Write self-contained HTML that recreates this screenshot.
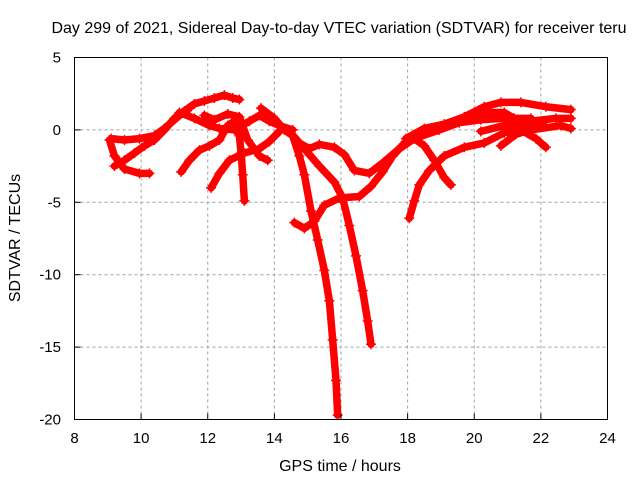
<!DOCTYPE html>
<html><head><meta charset="utf-8"><style>
body{margin:0;background:#fff}
svg{display:block;font-family:"Liberation Sans",sans-serif}
</style></head><body>
<svg id="chart" width="640" height="480" viewBox="0 0 640 480" xmlns="http://www.w3.org/2000/svg">
<rect width="640" height="480" fill="#fff"/>
<text x="339" y="33" font-size="16" text-anchor="middle">Day 299 of 2021, Sidereal Day-to-day VTEC variation (SDTVAR) for receiver teru</text>
<g id="grid"></g>
<g id="series"></g>
<rect x="74.5" y="57.5" width="533" height="362" fill="none" stroke="#000" stroke-width="1"/>
<g id="ticks"></g>
<text x="340" y="471" font-size="16" text-anchor="middle">GPS time / hours</text>
<text transform="translate(20,238) rotate(-90)" font-size="16" text-anchor="middle">SDTVAR / TECUs</text>
</svg>
<script>
const xTicks=[8,10,12,14,16,18,20,22,24];
const yTicks=[5,0,-5,-10,-15,-20];
const trackL1=[[9.05,-0.7],[9.2,-1.8],[9.5,-2.7],[9.95,-3],[10.25,-3]];
const trackL2=[[9.1,-0.6],[9.5,-0.7],[9.95,-0.6],[10.4,-0.4],[10.7,0.1],[11.15,1],[11.45,1.5]];
const trackL3=[[9.2,-2.5],[9.5,-2.1],[9.8,-1.6],[10.1,-1.1],[10.4,-0.7],[10.7,0],[11,0.8],[11.3,1.3],[11.6,1.8],[11.9,2],[12.2,2.2],[12.5,2.4],[12.75,2.2],[12.95,2.1]];
const trackL4=[[11.15,1.2],[11.6,0.8],[12.05,0.3],[12.35,0.1],[12.8,0],[13.25,0.6],[13.55,1],[13.85,0.6],[14.15,0.3],[14.55,0]];
const trackL5=[[11.9,1.0],[12.2,0.7],[12.6,1.1],[12.95,0.9],[13.2,-0.7],[13.55,-1.8],[13.8,-2.1]];
const trackL6=[[11.2,-2.9],[11.45,-2.1],[11.75,-1.4],[12.05,-1.1],[12.35,-0.7],[12.6,0.3],[12.8,0.6],[12.95,-0.4],[13.0,-1.6],[13.05,-3.1],[13.1,-4.9]];
const trackL7=[[12.1,-4],[12.35,-3],[12.65,-2.1],[13.1,-1.6],[13.55,-1.3],[13.85,-0.8],[14.15,-0.1]];
const trackL8=[[13.6,1.5],[14,0.8],[14.3,0],[14.55,-0.4]];
const trackM1=[[14.55,-0.4],[14.75,-1.8],[14.9,-3.1],[15.1,-5.6],[15.3,-7.6],[15.5,-9.7],[15.65,-11.8],[15.75,-14.5],[15.85,-17.3],[15.9,-19.7]];
const trackM2=[[14.45,-0.1],[14.9,-1.3],[15.35,-2.5],[15.8,-3.6],[16.05,-4.7],[16.25,-6.6],[16.45,-8.7],[16.65,-11.1],[16.8,-13.2],[16.9,-14.8]];
const trackM3=[[14.75,-0.9],[15.05,-1.3],[15.35,-1],[15.8,-1.2],[16.1,-1.7],[16.4,-2.8],[16.85,-3],[17.3,-2.2],[17.75,-1.3],[18.2,-0.6],[18.95,0],[19.55,0.5],[20.2,0.7],[20.9,0.8],[21.7,0.8]];
const trackM4=[[14.6,-6.4],[14.9,-6.8],[15.2,-6.3],[15.5,-5.2],[15.95,-4.7],[16.55,-4.6],[16.9,-3.9],[17.25,-2.9],[17.55,-1.8],[17.95,-0.8],[18.2,-0.6],[18.5,-1.1],[18.8,-2.1],[19.1,-3.3],[19.3,-3.8]];
const trackR1=[[18.05,-6.1],[18.2,-4.9],[18.35,-3.8],[18.65,-2.8],[19.1,-1.8],[19.7,-1.2],[20.3,-0.9],[20.9,-0.2],[21.5,0.1],[22.1,0.3]];
const trackR2=[[17.95,-0.6],[18.5,0.1],[19.1,0.4],[19.7,0.9],[20.3,1.6],[20.8,1.9],[21.4,1.9],[22.15,1.6],[22.9,1.4]];
const trackR3=[[19.7,0.8],[20.3,1.2],[20.9,1.2],[21.2,0.8]];
const trackR4=[[20.2,-0.1],[20.9,0.3],[21.7,0.6],[22.45,0.8],[22.9,0.8]];
const trackR5=[[20.8,-1.1],[21.25,-0.3],[21.7,0],[22.6,0.3],[22.9,0.1]];
const trackR6=[[21.4,0],[21.85,-0.6],[22.15,-1.2]];
const tracks=[trackL1,trackL2,trackL3,trackL4,trackL5,trackL6,trackL7,trackL8,trackM1,trackM2,trackM3,trackM4,trackR1,trackR2,trackR3,trackR4,trackR5,trackR6];

const NS="http://www.w3.org/2000/svg";
const X0=74.5,X1=607.5,Y0=419.5,Y1=57.5;
function xs(v){return X0+(v-8)/16*(X1-X0);}
function ys(v){return Y0-(v+20)/25*(Y0-Y1);}
function mk(tag,attrs,parent){const e=document.createElementNS(NS,tag);for(const k in attrs)e.setAttribute(k,attrs[k]);parent.appendChild(e);return e;}
const grid=document.getElementById('grid'),ticks=document.getElementById('ticks'),series=document.getElementById('series');
xTicks.forEach(t=>{
  const x=xs(t);
  if(t>8&&t<24){const g=mk('line',{x1:x,x2:x,y1:Y1,y2:Y0,stroke:'#a0a0a0','stroke-dasharray':'3,3'},grid);
  
  }
  const tl=mk('line',{x1:x,x2:x,y1:Y0,y2:Y0-6,stroke:'#000'},ticks);
  
  
  const tx=mk('text',{x:x,y:443,'font-size':15,'text-anchor':'middle'},ticks);
  tx.textContent=t;
  
  
});
yTicks.forEach(t=>{
  const y=ys(t);
  if(t<5&&t>-20){const g=mk('line',{x1:X0,x2:X1,y1:y,y2:y,stroke:'#a0a0a0','stroke-dasharray':'3,3'},grid);
  
  }
  const tl=mk('line',{x1:X0,x2:X0+6,y1:y,y2:y,stroke:'#000'},ticks);
  
  
  const tx=mk('text',{x:61,y:y+5,'font-size':15,'text-anchor':'end'},ticks);
  tx.textContent=t;
  
  
});
tracks.forEach((tr,i)=>{
  const pl=mk('polyline',{points:tr.map(p=>xs(p[0])+','+ys(p[1])).join(' '),fill:'none',stroke:'#ff0000','stroke-width':7.5,'stroke-linejoin':'round','stroke-linecap':'round'},series);
  
  
  tr.forEach(p=>{
    const x=xs(p[0]),y=ys(p[1]);
    const m=mk('path',{d:`M${x-5},${y}H${x+5}M${x},${y-5}V${y+5}`,stroke:'#ff0000','stroke-width':1.5},series);
    
    
  });
});
</script>
</body></html>
